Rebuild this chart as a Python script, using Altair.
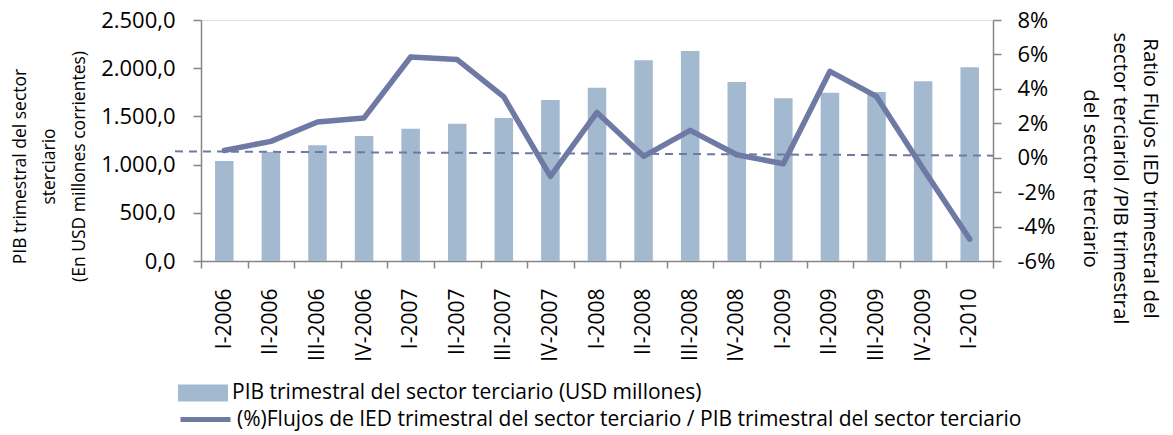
import altair as alt
import pandas as pd

quarters = ["I-2006", "II-2006", "III-2006", "IV-2006", "I-2007", "II-2007", "III-2007", "IV-2007",
            "I-2008", "II-2008", "III-2008", "IV-2008", "I-2009", "II-2009", "III-2009", "IV-2009", "I-2010"]
pib = [1037, 1131, 1200, 1297, 1373, 1424, 1483, 1670, 1798, 2082, 2178, 1857, 1688, 1746, 1753, 1864, 2009]
ratio = [0.42, 0.95, 2.07, 2.31, 5.85, 5.70, 3.53, -1.09, 2.63, 0.08, 1.59, 0.17, -0.35, 5.02, 3.56, -0.64, -4.73]
trend = [0.37, 0.12]  # dashed trend line, start and end (%)

bar_name = "PIB trimestral del sector terciario (USD millones)"
line_name = "(%)Flujos de IED trimestral del sector terciario / PIB trimestral del sector terciario"

df = pd.DataFrame({"q": quarters, "pib": pib, "ratio": ratio,
                   "sb": [bar_name] * len(quarters), "sl": [line_name] * len(quarters)})
tdf = pd.DataFrame({"t0": [trend[0]], "t1": [trend[1]]})

FONT = "Open Sans"
W, H = 792, 241
AX = "#868686"
BAR = "#A3B9CF"
LINE = "#6E7AA4"

xenc = alt.X("q:N", sort=quarters, title=None,
             scale=alt.Scale(paddingInner=0, paddingOuter=0),
             axis=alt.Axis(labelAngle=-90, tickBand="extent", tickSize=7, labelPadding=20,
                           labelFontSize=21, labelFont=FONT, labelColor="#000",
                           domainColor=AX, tickColor=AX, domainWidth=1.5, tickWidth=1.5))

base = alt.Chart(df)

bars = base.mark_bar(size=18.5).encode(
    x=xenc,
    y=alt.Y("pib:Q", scale=alt.Scale(domain=[0, 2500]),
            axis=alt.Axis(orient="left", values=[0, 500, 1000, 1500, 2000, 2500], grid=False,
                          labelExpr="replace(replace(replace(format(datum.value, ',.1f'), ',', '#'), '.', ','), '#', '.')",
                          labelFontSize=22, labelFont=FONT, labelColor="#000", labelPadding=18,
                          tickSize=8, domainColor=AX, tickColor=AX, domainWidth=1.5, tickWidth=1.5,
                          title=["PIB trimestral del sector", "sterciario", "(En USD millones corrientes)"],
                          titleFont=FONT, titleFontSize=17.5, titleFontWeight="normal", titleColor="#000",
                          titleAngle=-90, titleBaseline="middle", titleAlign="center",
                          titleX=-181, titleY=146, titleLineHeight=29.5)),
    fill=alt.Fill("sb:N", scale=alt.Scale(range=[BAR]),
                  legend=alt.Legend(orient="none", legendX=-23, legendY=348, title=None, padding=0,
                                    symbolType="M-1,-0.34H1V0.34H-1Z", symbolSize=2500,
                                    symbolStrokeWidth=0, labelFontSize=21, labelFont=FONT,
                                    labelColor="#000", labelOffset=4, labelLimit=1200)),
)

line = base.mark_line(strokeWidth=5.5, strokeJoin="round", strokeCap="round").encode(
    x=alt.X("q:N", sort=quarters),
    y=alt.Y("ratio:Q", scale=alt.Scale(domain=[-6, 8]),
            axis=alt.Axis(orient="right", values=[-6, -4, -2, 0, 2, 4, 6, 8], grid=False,
                          labelExpr="datum.value + '%'",
                          labelFontSize=22, labelFont=FONT, labelColor="#000", labelPadding=16,
                          tickSize=8, domainColor=AX, tickColor=AX, domainWidth=1.5, tickWidth=1.5,
                          title=["Ratio Flujos IED trimestral del", "sector terciariol /PIB trimestral",
                                 "del sector terciario"],
                          titleFont=FONT, titleFontSize=20.5, titleFontWeight="normal", titleColor="#000",
                          titleAngle=90, titleBaseline="middle", titleAlign="center",
                          titleX=156, titleY=158, titleLineHeight=30)),
    stroke=alt.Stroke("sl:N", scale=alt.Scale(range=[LINE]),
                      legend=alt.Legend(orient="none", legendX=-23, legendY=372, title=None, padding=0,
                                        symbolType="stroke", symbolSize=2500, symbolStrokeWidth=5,
                                        labelFontSize=21, labelFont=FONT, labelColor="#000",
                                        labelOffset=4, labelLimit=1200)),
)

trend_rule = alt.Chart(tdf).mark_rule(color=LINE, strokeWidth=2, strokeDash=[8, 6]).encode(
    x=alt.value(-26), x2=alt.value(W),
    y=alt.Y("t0:Q", scale=alt.Scale(domain=[-6, 8]), axis=None),
    y2="t1:Q",
)

chart = alt.layer(bars, trend_rule, line).resolve_scale(
    y="independent", fill="independent", stroke="independent"
).properties(
    width=W, height=H,
    autosize=alt.AutoSizeParams(type="none"),
    padding={"left": 193, "top": 12, "right": 172, "bottom": 178},
).configure_view(stroke=None).configure(background="white")

chart.save("out.html", embed_options={"renderer": "svg", "actions": False})
